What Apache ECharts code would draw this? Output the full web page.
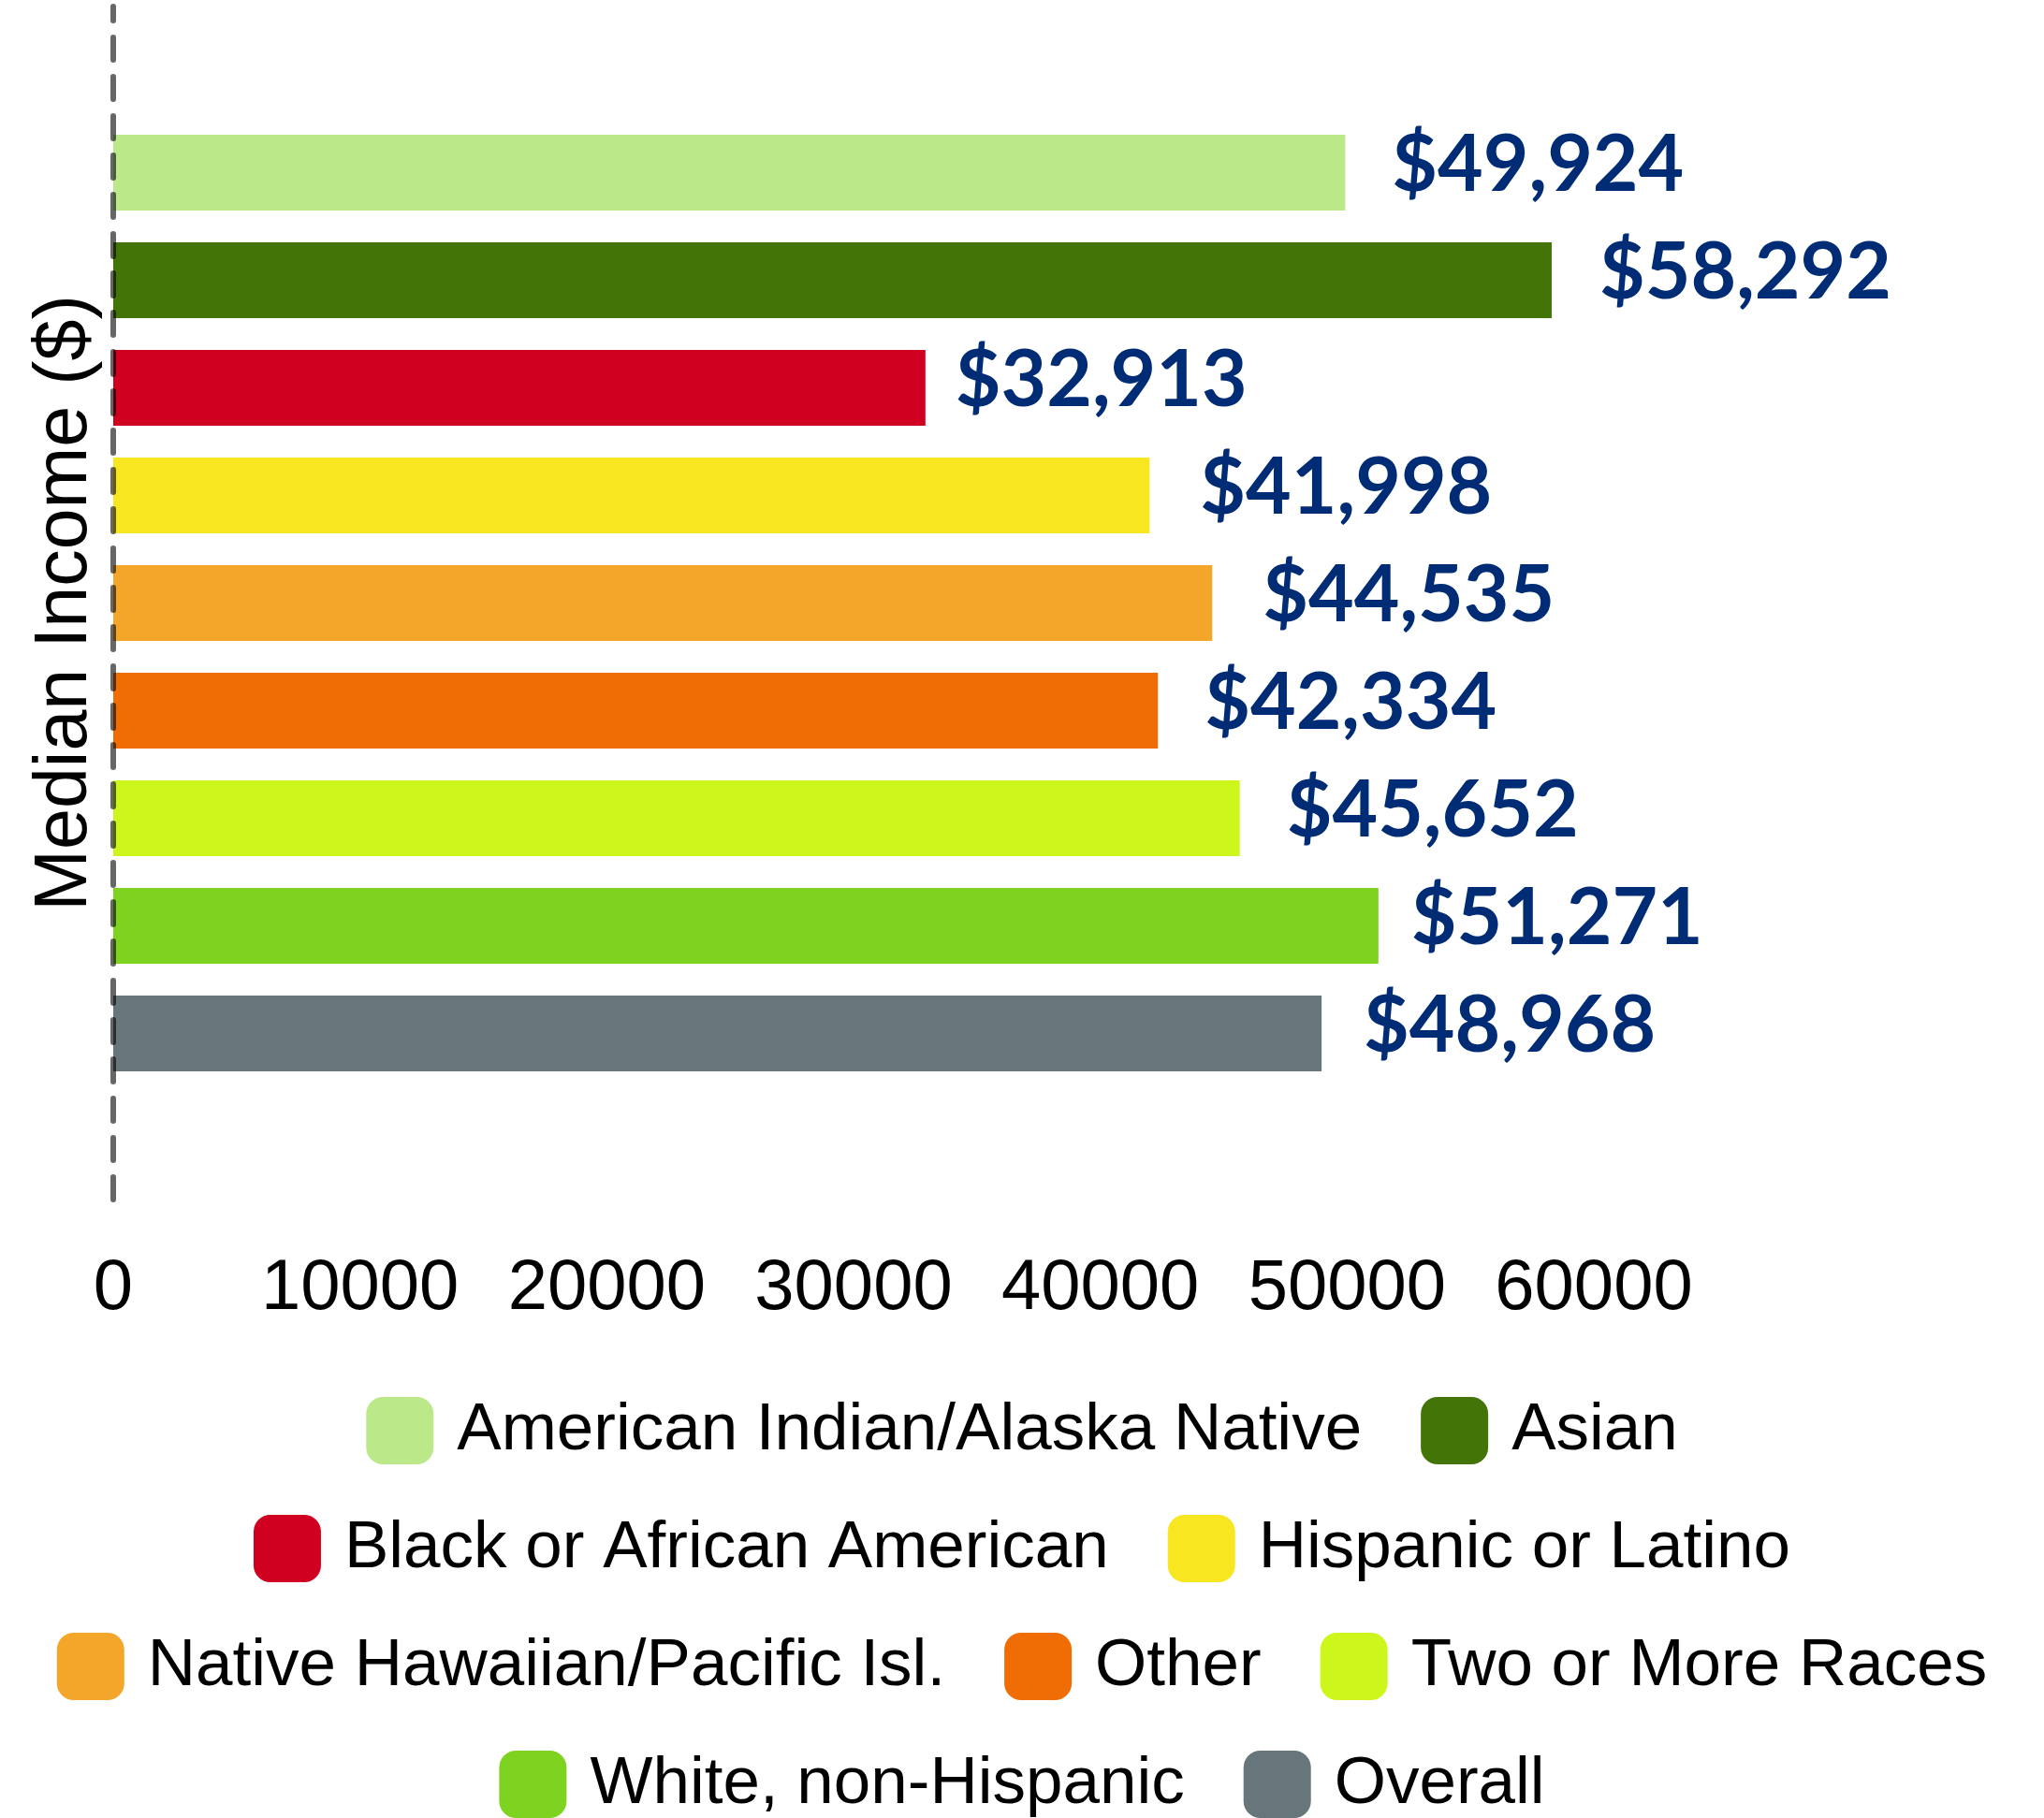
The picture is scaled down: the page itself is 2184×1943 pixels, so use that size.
<!DOCTYPE html>
<html>
<head>
<meta charset="utf-8">
<script src="https://cdn.jsdelivr.net/npm/echarts@6/dist/echarts.min.js"></script>
<style>
  html, body { margin: 0; padding: 0; background: #fff; }
  #main { width: 2184px; height: 1943px; }
</style>
</head>
<body>
<div id="main"></div>
<script>
// median income by race / ethnicity
var groups = [
  "American Indian/Alaska Native",
  "Asian",
  "Black or African American",
  "Hispanic or Latino",
  "Native Hawaiian/Pacific Isl.",
  "Other",
  "Two or More Races",
  "White, non-Hispanic",
  "Overall"
];
var incomes = [49924, 58292, 32913, 41998, 44535, 42334, 45652, 51271, 48968];
var colors = ["#bbe98a", "#437407", "#cf0020", "#f7e620", "#f4a62a", "#f06c05", "#cdf71c", "#7ed321", "#67767a"];
var xTicks = [0, 10000, 20000, 30000, 40000, 50000, 60000];

// legend rows as in the picture
var legendRows = [
  ["American Indian/Alaska Native", "Asian"],
  ["Black or African American", "Hispanic or Latino"],
  ["Native Hawaiian/Pacific Isl.", "Other", "Two or More Races"],
  ["White, non-Hispanic", "Overall"]
];
var legendTops = [1493, 1619, 1745, 1871];

var myChart = echarts.init(document.getElementById("main"));

function money(v) {
  return "$" + v.toString().replace(/\B(?=(\d{3})+(?!\d))/g, ",");
}

// the value labels sit a little unevenly in the original
var labelGaps = [50, 51, 32, 54, 54, 50, 50, 35, 45];

var series = [];
for (var i = 0; i < groups.length; i++) {
  series.push({
    name: groups[i],
    type: "bar",
    data: [incomes[i]],
    barWidth: 81,
    barGap: "42%",
    itemStyle: { color: colors[i] },
    label: {
      show: true,
      position: "right",
      distance: labelGaps[i],
      offset: [0, -8],
      formatter: function (p) { return money(p.value); },
      fontFamily: "Lato",
      fontWeight: "bold",
      fontSize: 84,
      color: "#002b75"
    }
  });
}

var legends = legendRows.map(function (row, k) {
  return {
    data: row,
    top: legendTops[k],
    left: "center",
    padding: 0,
    icon: "roundRect",
    itemWidth: 72,
    itemHeight: 72,
    itemGap: 63,
    selectedMode: false,
    textStyle: {
      fontFamily: "Liberation Sans",
      fontSize: 71,
      color: "#000",
      lineHeight: 72,
      padding: [0, 0, 0, 20]
    }
  };
});

var option = {
  backgroundColor: "#fff",
  animation: false,
  legend: legends,
  grid: { left: 121, right: 481, top: 7, height: 1275 },
  xAxis: {
    type: "value",
    min: xTicks[0],
    max: xTicks[xTicks.length - 1],
    interval: 10000,
    axisLine: { show: false },
    axisTick: { show: false },
    splitLine: { show: false },
    axisLabel: {
      margin: 58,
      formatter: function (v) { return String(v); },
      fontFamily: "Liberation Sans",
      fontSize: 76,
      color: "#000"
    }
  },
  yAxis: {
    type: "category",
    data: [""],
    z: 5,
    name: "Median Income ($)",
    nameLocation: "middle",
    nameGap: 11,
    nameTextStyle: {
      fontFamily: "Liberation Sans",
      fontSize: 79,
      color: "#000"
    },
    axisLine: {
      show: true,
      lineStyle: { color: "rgba(0,0,0,0.6)", width: 6, type: [24, 18] }
    },
    axisTick: { show: false },
    axisLabel: { show: false }
  },
  series: series
};

myChart.setOption(option);
</script>
</body>
</html>
